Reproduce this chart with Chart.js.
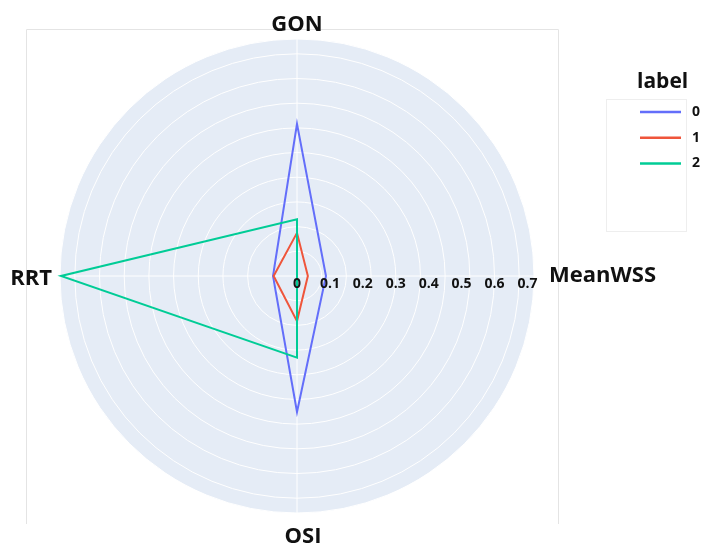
<!DOCTYPE html>
<html>
<head>
<meta charset="utf-8">
<script src="https://cdn.jsdelivr.net/npm/chart.js@4/dist/chart.umd.min.js"></script>
<style>
  body { margin: 0; background: #fff; }
  canvas { display: block; }
</style>
</head>
<body>
<canvas id="myChart" width="705" height="548"></canvas>
<script>
// axes, clockwise from the top
const categories = ['GON', 'MeanWSS', 'OSI', 'RRT'];
const seriesNames = ['0', '1', '2'];
const label0 = [0.462, 0.088, 0.413, 0.073];
const label1 = [0.131, 0.033, 0.137, 0.071];
const label2 = [0.172, 0.0, 0.248, 0.717];
const tickLabels = [0, 0.1, 0.2, 0.3, 0.4, 0.5, 0.6, 0.7];
const colors = ['#636efa', '#EF553B', '#00cc96'];

const FONT = '"Open Sans", "Noto Sans", sans-serif';

// thin frame around the polar area
const framePlugin = {
  id: 'frame',
  beforeDraw(chart) {
    const ctx = chart.ctx;
    ctx.save();
    ctx.strokeStyle = '#e4e4e4';
    ctx.lineWidth = 1;
    ctx.beginPath();
    ctx.moveTo(26.5, 524);
    ctx.lineTo(26.5, 29.5);
    ctx.lineTo(558.5, 29.5);
    ctx.lineTo(558.5, 524);
    ctx.stroke();
    ctx.restore();
  }
};

// axis names, radial tick labels and the legend
const labelsPlugin = {
  id: 'labels',
  afterDatasetsDraw(chart) {
    const ctx = chart.ctx;
    const r = chart.scales.r;
    ctx.save();

    // category names
    const gaps = [14, 15, 24, 8];
    ctx.font = 'bold 22px ' + FONT;
    ctx.fillStyle = '#111';
    categories.forEach((name, i) => {
      const p = r.getPointPosition(i, r.drawingArea + gaps[i]);
      const a = p.angle;
      const c = Math.cos(a);
      ctx.textAlign = Math.abs(c) < 0.1 ? 'center' : (c > 0 ? 'left' : 'right');
      ctx.textBaseline = 'middle';
      ctx.fillText(name, p.x + (i === 2 ? 6 : 0), p.y + (i === 3 ? 3 : 0));
    });

    // radial ticks along the MeanWSS axis
    ctx.font = 'bold 14px ' + FONT;
    ctx.fillStyle = '#111';
    ctx.textAlign = 'center';
    ctx.textBaseline = 'middle';
    tickLabels.forEach(v => {
      const d = r.getDistanceFromCenterForValue(v);
      ctx.fillText(String(v), r.xCenter + d, r.yCenter + 8);
    });

    // legend
    ctx.fillStyle = '#fff';
    ctx.strokeStyle = '#eeeeee';
    ctx.lineWidth = 1;
    ctx.fillRect(606.5, 99.5, 80, 132);
    ctx.strokeRect(606.5, 99.5, 80, 132);
    ctx.font = 'bold 21px ' + FONT;
    ctx.fillStyle = '#111';
    ctx.textAlign = 'left';
    ctx.textBaseline = 'middle';
    ctx.fillText('label', 637, 82);
    ctx.font = 'bold 14px ' + FONT;
    chart.data.datasets.forEach((ds, i) => {
      const y = 112 + i * 25.7;
      ctx.strokeStyle = ds.borderColor;
      ctx.lineWidth = 2.5;
      ctx.beginPath();
      ctx.moveTo(640, y);
      ctx.lineTo(681, y);
      ctx.stroke();
      ctx.fillStyle = '#111';
      ctx.fillText(ds.label, 692, y);
    });

    ctx.restore();
  }
};

const ctx = document.getElementById('myChart').getContext('2d');
const myChart = new Chart(ctx, {
  type: 'radar',
  data: {
    labels: categories,
    datasets: [label0, label1, label2].map((values, i) => ({
      label: seriesNames[i],
      data: values,
      borderColor: colors[i],
      backgroundColor: colors[i],
      borderWidth: 2,
      fill: false,
      order: 2 - i
    }))
  },
  options: {
    responsive: false,
    animation: false,
    elements: {
      line: { tension: 0 },
      point: { radius: 0, hoverRadius: 0 }
    },
    plugins: {
      legend: { display: false },
      tooltip: { enabled: false }
    },
    scales: {
      r: {
        min: 0,
        max: 0.72,
        backgroundColor: '#E5ECF6',
        ticks: { display: false, stepSize: 0.075 },
        grid: { circular: true, color: '#ffffff', lineWidth: 1 },
        angleLines: { color: '#ffffff', lineWidth: 1 },
        pointLabels: { display: false },
        afterFit: (scale) => {
          scale.xCenter = 297;
          scale.yCenter = 276;
          scale.drawingArea = 237;
        }
      }
    }
  },
  plugins: [framePlugin, labelsPlugin]
});
</script>
</body>
</html>
